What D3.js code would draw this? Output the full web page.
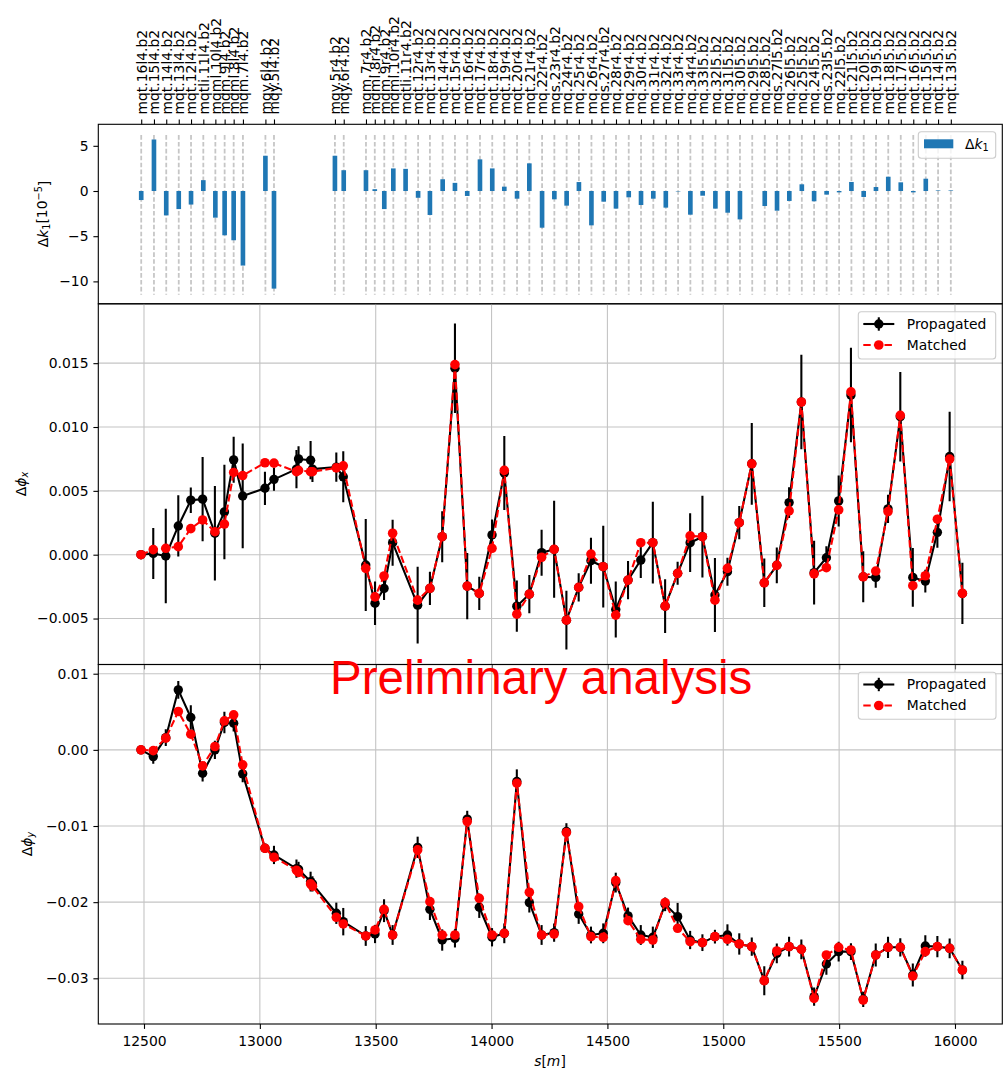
<!DOCTYPE html>
<html><head><meta charset="utf-8">
<script src="https://cdn.jsdelivr.net/npm/d3@7"></script>
<style>body{margin:0;background:#fff}</style>
</head><body><svg id="c" width="1003" height="1072"></svg>
<script>
// ---------------- DATA ----------------
const quadNames = ["mqt.16l4.b2","mqt.15l4.b2","mqt.14l4.b2","mqt.13l4.b2","mqt.12l4.b2","mqtli.11l4.b2","mqml.10l4.b2","mqm.9l4.b2","mqml.8l4.b2","mqm.7l4.b2","mqy.6l4.b2","mqy.5l4.b2","mqy.5r4.b2","mqy.6r4.b2","mqm.7r4.b2","mqml.8r4.b2","mqm.9r4.b2","mqml.10r4.b2","mqtli.11r4.b2","mqt.12r4.b2","mqt.13r4.b2","mqt.14r4.b2","mqt.15r4.b2","mqt.16r4.b2","mqt.17r4.b2","mqt.18r4.b2","mqt.19r4.b2","mqt.20r4.b2","mqt.21r4.b2","mq.22r4.b2","mqs.23r4.b2","mq.24r4.b2","mq.25r4.b2","mq.26r4.b2","mqs.27r4.b2","mq.28r4.b2","mq.29r4.b2","mq.30r4.b2","mq.31r4.b2","mq.32r4.b2","mq.33r4.b2","mq.34r4.b2","mq.33l5.b2","mq.32l5.b2","mq.31l5.b2","mq.30l5.b2","mq.29l5.b2","mq.28l5.b2","mqs.27l5.b2","mq.26l5.b2","mq.25l5.b2","mq.24l5.b2","mqs.23l5.b2","mq.22l5.b2","mqt.21l5.b2","mqt.20l5.b2","mqt.19l5.b2","mqt.18l5.b2","mqt.17l5.b2","mqt.16l5.b2","mqt.15l5.b2","mqt.14l5.b2","mqt.13l5.b2"];
const quadS = [12488,12543,12596,12650,12703,12756,12808,12848,12887,12927,13024,13061,13324,13362,13458,13496,13537,13576,13629,13683,13734,13789,13842,13895,13950,14003,14055,14110,14163,14218,14271,14324,14377,14431,14484,14537,14592,14645,14698,14752,14805,14858,14911,14966,15019,15072,15125,15179,15232,15285,15339,15392,15446,15500,15553,15606,15659,15712,15766,15820,15874,15927,15982];
const dk1 = [-1.0,5.7,-2.7,-2.0,-1.5,1.2,-2.95,-4.9,-5.45,-8.25,3.9,-10.8,3.9,2.3,2.3,0.2,-2.0,2.5,2.45,-0.75,-2.65,1.3,0.9,-0.55,3.5,2.5,0.48,-0.85,3.06,-4.06,-0.92,-1.62,0.99,-3.8,-1.18,-1.95,-0.7,-1.55,-0.85,-1.84,-0.05,-2.62,-0.52,-1.95,-2.4,-3.14,0,-1.66,-2.18,-1.1,0.74,-1.14,-0.4,-0.15,1.0,-0.66,0.44,1.58,0.96,-0.15,1.36,0.06,0.06];

const bpmS = [12487,12540,12594,12648,12702,12753,12806,12847,12887,12926,13022,13061,13158,13167,13219,13227,13330,13360,13457,13497,13536,13573,13681,13734,13787,13842,13895,13947,14002,14055,14109,14163,14216,14270,14323,14376,14429,14482,14536,14589,14644,14696,14749,14803,14857,14910,14964,15018,15069,15123,15177,15231,15284,15337,15392,15445,15498,15551,15604,15658,15711,15764,15818,15872,15924,15977,16032];
const phixProp = [0,0.0001,-0.0001,0.00225,0.00427,0.00435,0.00168,0.00335,0.00743,0.0046,0.0052,0.0059,0.0067,0.0075,0.0074,0.0067,0.00686,0.0061,-0.00081,-0.0038,-0.00264,0.00094,-0.00395,-0.00264,0.00141,0.0146,-0.00246,-0.00303,0.00155,0.0064,-0.00403,-0.00309,0.00016,0.00042,-0.00513,-0.00256,-0.00047,-0.00094,-0.00429,-0.00199,-0.00042,0.00094,-0.00403,-0.00146,0.00094,0.00141,-0.00316,-0.00133,0.00251,0.00712,-0.0022,-0.00083,0.00408,0.01196,-0.00141,-0.00024,0.00421,0.0125,-0.00173,-0.00178,0.00359,0.0108,-0.00178,-0.00207,0.00175,0.00769,-0.00303];
const phixErr = [0.0003,0.002,0.0037,0.0024,0.001,0.0033,0.0037,0.0037,0.0018,0.0041,0.0013,0.0009,0.0015,0.001,0.0015,0.001,0.00115,0.002,0.0036,0.0017,0.0009,0.0018,0.003,0.0013,0.002,0.0035,0.0026,0.0013,0.0012,0.0029,0.002,0.0015,0.0018,0.0038,0.0023,0.0011,0.0018,0.0032,0.0022,0.0015,0.0014,0.0032,0.0021,0.0009,0.0023,0.0032,0.0029,0.0011,0.0013,0.0032,0.0019,0.0014,0.0012,0.0037,0.0025,0.0009,0.002,0.0037,0.002,0.0008,0.0011,0.0035,0.0023,0.0009,0.0012,0.0035,0.0024];
const phixMatch = [0,0.0004,0.0005,0.00063,0.00204,0.00272,0.0018,0.0024,0.00644,0.0062,0.0072,0.00717,0.0065,0.0066,0.0065,0.0065,0.0068,0.00696,-0.00107,-0.0033,-0.00167,0.00168,-0.00356,-0.00264,0.00141,0.01489,-0.00246,-0.00303,0.0005,0.0066,-0.00466,-0.00309,-0.0002,0.00042,-0.00513,-0.00256,0.00005,-0.00094,-0.00473,-0.00199,0.00094,0.00094,-0.00403,-0.00146,0.00147,0.00141,-0.00356,-0.00107,0.00251,0.00712,-0.0022,-0.00083,0.00343,0.01196,-0.0015,-0.00102,0.00351,0.01275,-0.00173,-0.00128,0.00338,0.01091,-0.00243,-0.00165,0.00278,0.00749,-0.00303];
const phiyProp = [0,-0.00088,0.0016,0.00788,0.00425,-0.00307,0,0.00359,0.0035,-0.00315,-0.01292,-0.0138,-0.0156,-0.0157,-0.0173,-0.0176,-0.02146,-0.02256,-0.02444,-0.02418,-0.02112,-0.02431,-0.0128,-0.02094,-0.02497,-0.02475,-0.0091,-0.02067,-0.02461,-0.02409,-0.00416,-0.02006,-0.02431,-0.024,-0.01073,-0.02155,-0.02431,-0.02409,-0.01743,-0.02181,-0.02431,-0.02461,-0.02028,-0.0219,-0.02497,-0.02532,-0.02453,-0.02431,-0.02549,-0.02584,-0.03031,-0.02672,-0.02584,-0.02619,-0.03241,-0.02812,-0.0265,-0.0265,-0.03276,-0.02694,-0.02593,-0.02593,-0.02957,-0.02576,-0.02584,-0.02606,-0.02891];
const phiyErr = [0.0002,0.00096,0.0011,0.00116,0.0016,0.0011,0.0012,0.0014,0.0011,0.0011,0.0006,0.0012,0.0012,0.001,0.0013,0.001,0.0014,0.0018,0.0013,0.0012,0.0015,0.0013,0.0014,0.0014,0.0014,0.0012,0.0011,0.0014,0.0012,0.0013,0.0016,0.0013,0.0013,0.0012,0.0011,0.0013,0.0011,0.0013,0.0013,0.0011,0.0013,0.0014,0.0009,0.0018,0.0012,0.0011,0.0009,0.0014,0.0014,0.0012,0.0019,0.0013,0.0013,0.0013,0.0012,0.0014,0.0013,0.0011,0.001,0.0015,0.0014,0.0012,0.0015,0.0014,0.0014,0.0013,0.0012];
const phiyMatch = [0,-0.0001,0.00154,0.00504,0.00206,-0.0021,0.00044,0.00381,0.0046,-0.00197,-0.01292,-0.0141,-0.0158,-0.0161,-0.0176,-0.0179,-0.02199,-0.02286,-0.02444,-0.02365,-0.02094,-0.02431,-0.01314,-0.01993,-0.02431,-0.02431,-0.00942,-0.01949,-0.02431,-0.02409,-0.00438,-0.0187,-0.02431,-0.02418,-0.01086,-0.02059,-0.02453,-0.02461,-0.01717,-0.02243,-0.02488,-0.02497,-0.02006,-0.02343,-0.02519,-0.02532,-0.02453,-0.02488,-0.02549,-0.02584,-0.03031,-0.02641,-0.02584,-0.02619,-0.03263,-0.02694,-0.02593,-0.02628,-0.03285,-0.02694,-0.02593,-0.02593,-0.0297,-0.0265,-0.02584,-0.02606,-0.02891];

const xTickValues = [12500,13000,13500,14000,14500,15000,15500,16000];
const topYTicks = [5,0,-5,-10];
const midYTicks = [-0.005,0,0.005,0.01,0.015];
const botYTicks = [-0.03,-0.02,-0.01,0,0.01];
const legendLabels = ["Propagated","Matched"];

// ---------------- LAYOUT ----------------
const FONT = "DejaVu Sans, sans-serif";
const FS = 13.9, TL = 4.9, TP = 4.9, LW = 2.08;
const svg = d3.select("#c");
svg.append("rect").attr("width",1003).attr("height",1072).attr("fill","#fff");

const X0 = 98.3, X1 = 1002.3;
const x = d3.scaleLinear().domain([12302.8,16204.2]).range([X0,X1]);
const yTop = d3.scaleLinear().domain([-12.48,7.38]).range([303.8,124.3]);
const yMid = d3.scaleLinear().domain([-0.0086,0.01965]).range([664.5,303.8]);
const yBot = d3.scaleLinear().domain([-0.036,0.01121]).range([1024,664.5]);

const defs = svg.append("defs");
function clip(id, y){
  const r = y.range();
  defs.append("clipPath").attr("id",id).append("rect")
    .attr("x",X0).attr("y",r[1]).attr("width",X1-X0).attr("height",r[0]-r[1]);
  return "url(#"+id+")";
}

function styleAxis(g){
  g.attr("font-family",FONT).attr("font-size",FS);
  g.selectAll("path.domain").remove();
  g.selectAll(".tick line").attr("stroke","#000").attr("stroke-width",1.1);
  g.selectAll(".tick text").attr("fill","#000").attr("font-family",FONT).attr("font-size",FS);
}

function grid(y, yt){
  const g = svg.append("g");
  const r = y.range();
  g.selectAll(".gx").data(xTickValues).join("line")
    .attr("x1",d=>x(d)).attr("x2",d=>x(d)).attr("y1",r[0]).attr("y2",r[1])
    .attr("stroke","#c4c4c4").attr("stroke-width",1.1);
  g.selectAll(".gy").data(yt).join("line")
    .attr("x1",X0).attr("x2",X1).attr("y1",d=>y(d)).attr("y2",d=>y(d))
    .attr("stroke","#c4c4c4").attr("stroke-width",1.1);
}

function series(y, prop, err, match, cid){
  const g = svg.append("g").attr("clip-path",cid);
  const pts = bpmS.map((s,i)=>({s, p:prop[i], e:err[i], m:match[i]}));
  g.selectAll(".eb").data(pts).join("line")
    .attr("x1",d=>x(d.s)).attr("x2",d=>x(d.s))
    .attr("y1",d=>y(d.p-d.e)).attr("y2",d=>y(d.p+d.e))
    .attr("stroke","#000").attr("stroke-width",LW);
  g.append("path").datum(pts)
    .attr("d",d3.line().x(d=>x(d.s)).y(d=>y(d.p)))
    .attr("fill","none").attr("stroke","#000").attr("stroke-width",LW).attr("stroke-linejoin","round");
  g.selectAll(".bp").data(pts).join("circle")
    .attr("cx",d=>x(d.s)).attr("cy",d=>y(d.p)).attr("r",4.7).attr("fill","#000");
  g.append("path").datum(pts)
    .attr("d",d3.line().x(d=>x(d.s)).y(d=>y(d.m)))
    .attr("fill","none").attr("stroke","#ff0000").attr("stroke-width",LW)
    .attr("stroke-dasharray","7.4,3.2");
  g.selectAll(".rp").data(pts).join("circle")
    .attr("cx",d=>x(d.s)).attr("cy",d=>y(d.m)).attr("r",4.8).attr("fill","#ff0000");
}

function legend(bx, by, bw, bh, r1, r2){
  const g = svg.append("g");
  g.append("rect").attr("x",bx).attr("y",by).attr("width",bw).attr("height",bh)
    .attr("rx",3).attr("fill","#fff").attr("fill-opacity",0.8).attr("stroke","#cccccc").attr("stroke-width",1.1);
  const hx0 = bx+5, hx1 = bx+36, hc = (hx0+hx1)/2;
  // Propagated
  g.append("line").attr("x1",hx0).attr("x2",hx1).attr("y1",r1).attr("y2",r1).attr("stroke","#000").attr("stroke-width",LW);
  g.append("line").attr("x1",hc).attr("x2",hc).attr("y1",r1-6.7).attr("y2",r1+6.7).attr("stroke","#000").attr("stroke-width",LW);
  g.append("circle").attr("cx",hc).attr("cy",r1).attr("r",4.7).attr("fill","#000");
  // Matched
  g.append("line").attr("x1",hx0).attr("x2",hx1).attr("y1",r2).attr("y2",r2).attr("stroke","#ff0000").attr("stroke-width",LW).attr("stroke-dasharray","7.4,3.2");
  g.append("circle").attr("cx",hc).attr("cy",r2).attr("r",4.8).attr("fill","#ff0000");
  g.selectAll("text").data([[legendLabels[0],r1],[legendLabels[1],r2]]).join("text")
    .attr("x",bx+48.5).attr("y",d=>d[1]).attr("dy","0.35em")
    .attr("font-family",FONT).attr("font-size",FS).attr("fill","#000").text(d=>d[0]);
}

function spine(y){
  const r = y.range();
  svg.append("rect").attr("x",X0).attr("y",r[1]).attr("width",X1-X0).attr("height",r[0]-r[1])
    .attr("fill","none").attr("stroke","#000").attr("stroke-width",1.1);
}

function ylabel(cx, cy, parts){
  const t = svg.append("text").attr("transform",`translate(${cx},${cy}) rotate(-90)`)
    .attr("text-anchor","middle").attr("dy","0.35em")
    .attr("font-family",FONT).attr("font-size",FS).attr("fill","#000");
  parts.forEach(p=>{
    const ts = t.append("tspan").text(p.t);
    if(p.it) ts.attr("font-style","italic");
    if(p.sub){ ts.attr("font-size",FS*0.7).attr("dy","0.25em"); }
    if(p.sup){ ts.attr("font-size",FS*0.7).attr("dy","-0.45em"); }
    if(p.back) ts.attr("dy",p.back);
  });
  return t;
}

// ---------------- TOP PANEL ----------------
const cTop = clip("cTop", yTop);
const gTop = svg.append("g").attr("clip-path",cTop);
const topH = 303.8-124.3;
gTop.selectAll(".vl").data(quadS).join("line")
  .attr("x1",d=>x(d)).attr("x2",d=>x(d))
  .attr("y1",124.3+0.06*topH).attr("y2",303.8-0.05*topH)
  .attr("stroke","#c6c6c6").attr("stroke-width",1.8).attr("stroke-dasharray","4.6,2.3");
gTop.selectAll(".bar").data(quadS.map((s,i)=>({s,v:dk1[i]}))).join("rect")
  .attr("x",d=>x(d.s-10)).attr("width",d=>x(d.s+10)-x(d.s-10))
  .attr("y",d=>yTop(Math.max(0,d.v))).attr("height",d=>Math.abs(yTop(d.v)-yTop(0)))
  .attr("fill","#1f77b4");
spine(yTop);
styleAxis(svg.append("g").attr("transform",`translate(${X0},0)`)
  .call(d3.axisLeft(yTop).tickValues(topYTicks).tickFormat(d3.format("d")).tickSize(TL).tickPadding(TP).tickSizeOuter(0)));
const topAx = svg.append("g").attr("transform","translate(0,124.3)")
  .call(d3.axisTop(x).tickValues(quadS).tickFormat((d,i)=>quadNames[i]).tickSize(TL).tickSizeOuter(0));
styleAxis(topAx);
topAx.selectAll(".tick text").attr("transform","rotate(-90)").attr("x",TL+TP).attr("y",0)
  .attr("dy","0.35em").attr("text-anchor","start");
// top legend
{
  const g = svg.append("g");
  g.append("rect").attr("x",918.3).attr("y",131.7).attr("width",77.4).attr("height",26.6)
    .attr("rx",3).attr("fill","#fff").attr("fill-opacity",0.8).attr("stroke","#cccccc").attr("stroke-width",1.1);
  g.append("rect").attr("x",924).attr("y",139.3).attr("width",29.3).attr("height",9).attr("fill","#1f77b4");
  const t = g.append("text").attr("x",965).attr("y",144).attr("dy","0.35em")
    .attr("font-family",FONT).attr("font-size",FS).attr("fill","#000");
  t.append("tspan").text("Δ");
  t.append("tspan").attr("font-style","italic").text("k");
  t.append("tspan").attr("font-size",FS*0.7).attr("dy","0.25em").text("1");
}
ylabel(43, 214, [{t:"Δ"},{t:"k",it:true},{t:"1",sub:true},{t:"[10",back:"-0.25em"},{t:"−5",sup:true},{t:"]",back:"0.45em"}]);

// ---------------- MIDDLE PANEL ----------------
const cMid = clip("cMid", yMid);
grid(yMid, midYTicks);
series(yMid, phixProp, phixErr, phixMatch, cMid);
spine(yMid);
styleAxis(svg.append("g").attr("transform",`translate(${X0},0)`)
  .call(d3.axisLeft(yMid).tickValues(midYTicks).tickFormat(d3.format(".3f")).tickSize(TL).tickPadding(TP).tickSizeOuter(0)));
styleAxis(svg.append("g").attr("transform","translate(0,664.5)")
  .call(d3.axisBottom(x).tickValues(xTickValues).tickFormat("").tickSize(TL).tickSizeOuter(0)));
legend(858.3, 311.7, 137.4, 47.3, 324, 345);
ylabel(21, 484, [{t:"Δ"},{t:"ϕ",it:true},{t:"x",it:true,sub:true}]);

// ---------------- BOTTOM PANEL ----------------
const cBot = clip("cBot", yBot);
grid(yBot, botYTicks);
series(yBot, phiyProp, phiyErr, phiyMatch, cBot);
spine(yBot);
styleAxis(svg.append("g").attr("transform",`translate(${X0},0)`)
  .call(d3.axisLeft(yBot).tickValues(botYTicks).tickFormat(d3.format(".2f")).tickSize(TL).tickPadding(TP).tickSizeOuter(0)));
const bAx = svg.append("g").attr("transform","translate(0,1024)")
  .call(d3.axisBottom(x).tickValues(xTickValues).tickFormat(d3.format("d")).tickSize(TL).tickSizeOuter(0));
styleAxis(bAx);
bAx.selectAll(".tick text").attr("y",22).attr("dy",0);
legend(858.3, 672.3, 137.7, 47, 684.5, 705.5);
ylabel(26.7, 844, [{t:"Δ"},{t:"ϕ",it:true},{t:"y",it:true,sub:true}]);
{
  const t = svg.append("text").attr("x",550).attr("y",1066).attr("text-anchor","middle")
    .attr("font-family",FONT).attr("font-size",FS).attr("fill","#000");
  t.append("tspan").attr("font-style","italic").text("s");
  t.append("tspan").text("[");
  t.append("tspan").attr("font-style","italic").text("m");
  t.append("tspan").text("]");
}

// ---------------- WATERMARK ----------------
svg.append("text").attr("x",330).attr("y",694)
  .attr("font-family","Liberation Sans, Arial, sans-serif").attr("font-size",47.5)
  .attr("fill","#ff0000").text("Preliminary analysis");
</script></body></html>
